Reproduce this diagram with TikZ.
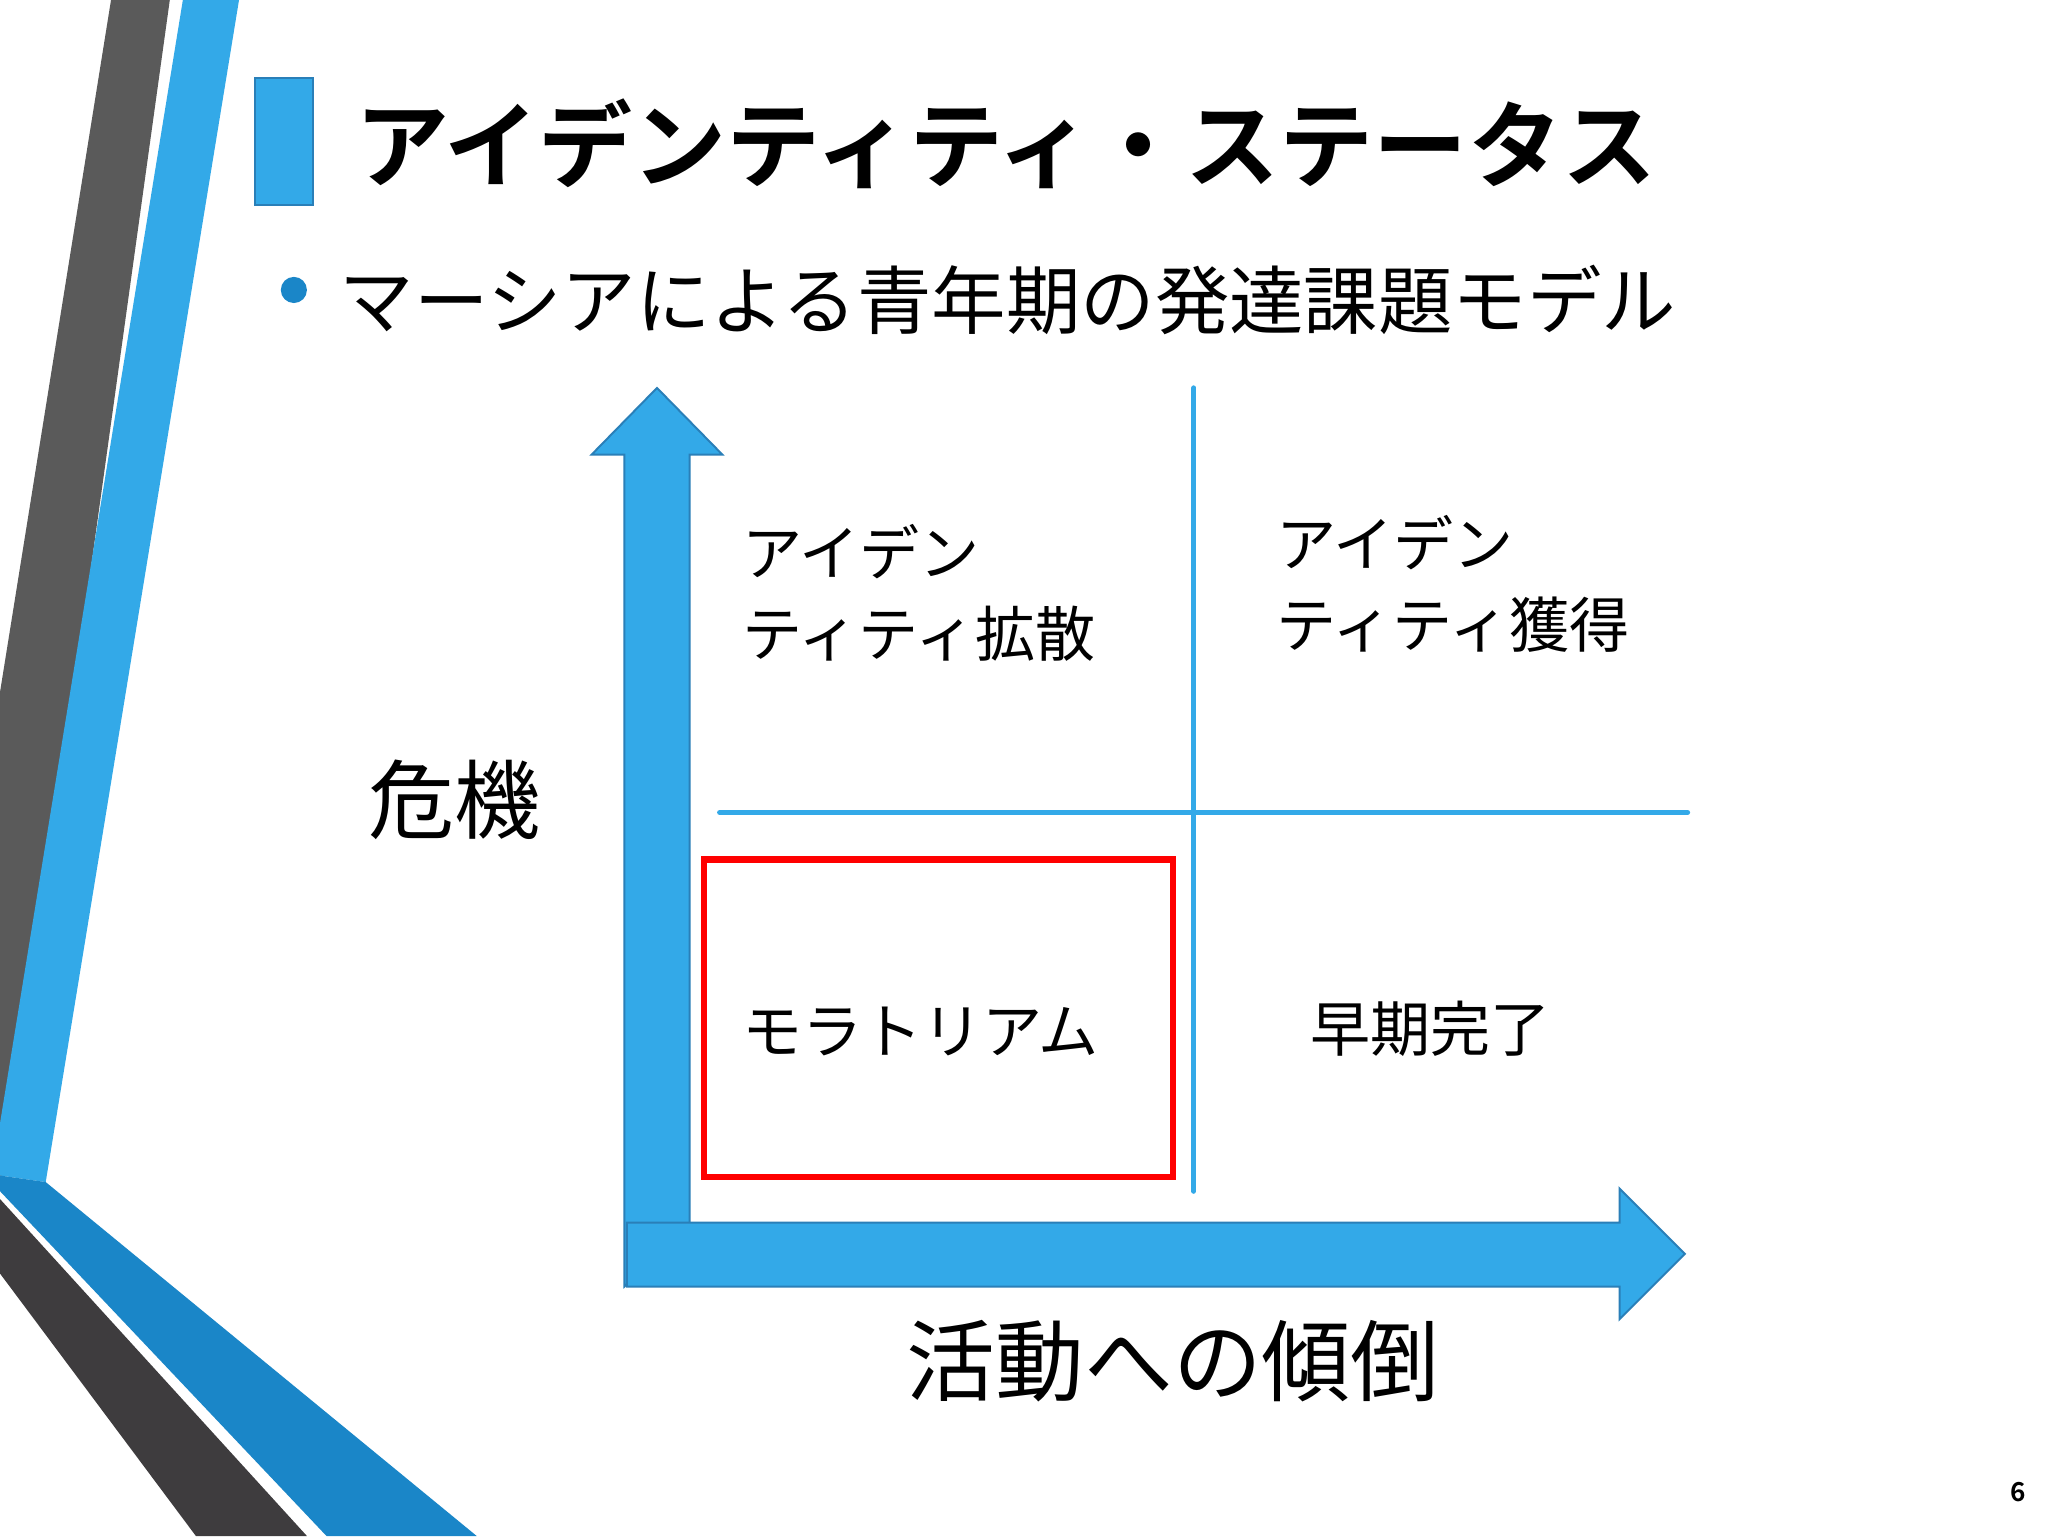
\documentclass[tikz,border=0pt]{standalone}
\usepackage{fontspec}
\newfontfamily\jp{Noto Sans CJK JP}
\newfontfamily\jpb{Noto Sans CJK JP Bold}
\definecolor{sky}{HTML}{33A9E8}
\definecolor{skyd}{HTML}{2A7FB8}
\definecolor{deep}{HTML}{1A86C8}
\definecolor{gr}{HTML}{5A5A5A}
\definecolor{grd}{HTML}{3E3C3E}
\begin{document}
\begin{tikzpicture}[x=1pt,y=-1pt,
  arr/.style={fill=sky,draw=skyd,line width=1.5},
  thin/.style={draw=sky,line width=4,line cap=round},
  lab/.style={anchor=west,font=\jp\fontsize{46}{62}\selectfont,align=left,inner sep=0}]
\useasboundingbox (0,0) rectangle (1568,1176);
\fill[white] (0,0) rectangle (1568,1176);
% decorations
\fill[gr] (85,0) -- (130,0) -- (5,900) -- (0,900) -- (0,530) -- cycle;
\fill[sky] (140,0) -- (183,0) -- (35,905) -- (0,900) -- (0,860) -- cycle;
\fill[deep] (0,900) -- (35,905) -- (365,1176) -- (250,1176) -- (0,912) -- cycle;
\fill[grd] (0,918) -- (235,1176) -- (150,1176) -- (0,975) -- cycle;
% title
\node[draw=skyd,fill=sky,line width=1.5,minimum width=45,minimum height=97,inner sep=0] (tb) at (217.5,108.5) {};
\node[anchor=west,inner sep=0,font=\jpb\fontsize{72}{80}\selectfont] (title) at (272,110) {アイデンティティ・ステータス};
\node[circle,fill=deep,minimum size=20,inner sep=0] (bul) at (225,222) {};
\node[anchor=west,inner sep=0,font=\jp\fontsize{57}{64}\selectfont] (sub) at (260,230) {マーシアによる青年期の発達課題モデル};
% arrows
\draw[arr] (478,985) -- (478,348) -- (453,348) -- (503,297) -- (553,348) -- (528,348) -- (528,936) -- cycle;
\draw[arr] (480,936) -- (1240,936) -- (1240,910) -- (1290,960) -- (1240,1010) -- (1240,985) -- (480,985) -- cycle;
\coordinate (vt) at (914,297); \coordinate (vb) at (914,912);
\coordinate (hl) at (551,622); \coordinate (hr) at (1292,622);
\draw[thin] (vt) -- (vb);
\draw[thin] (hl) -- (hr);
\node[draw=red,line width=5,minimum width=359,minimum height=243,inner sep=0] (mor) at (718.5,779.5) {};
% labels
\node[lab] (q1) at (568,454) {アイデン\\ティティ拡散};
\node[lab] (q2) at (977,447) {アイデン\\ティティ獲得};
\node[lab] (q3) at (568,790) {モラトリアム};
\node[lab] (q4) at (1003,788) {早期完了};
\node[anchor=west,inner sep=0,font=\jp\fontsize{66}{70}\selectfont] (ky) at (282,612) {危機};
\node[anchor=west,inner sep=0,font=\jp\fontsize{68}{70}\selectfont] (kx) at (694,1042) {活動への傾倒};
\node[inner sep=0,font=\jpb\fontsize{20}{22}\selectfont] (pg) at (1545,1142) {6};
\end{tikzpicture}
\end{document}
